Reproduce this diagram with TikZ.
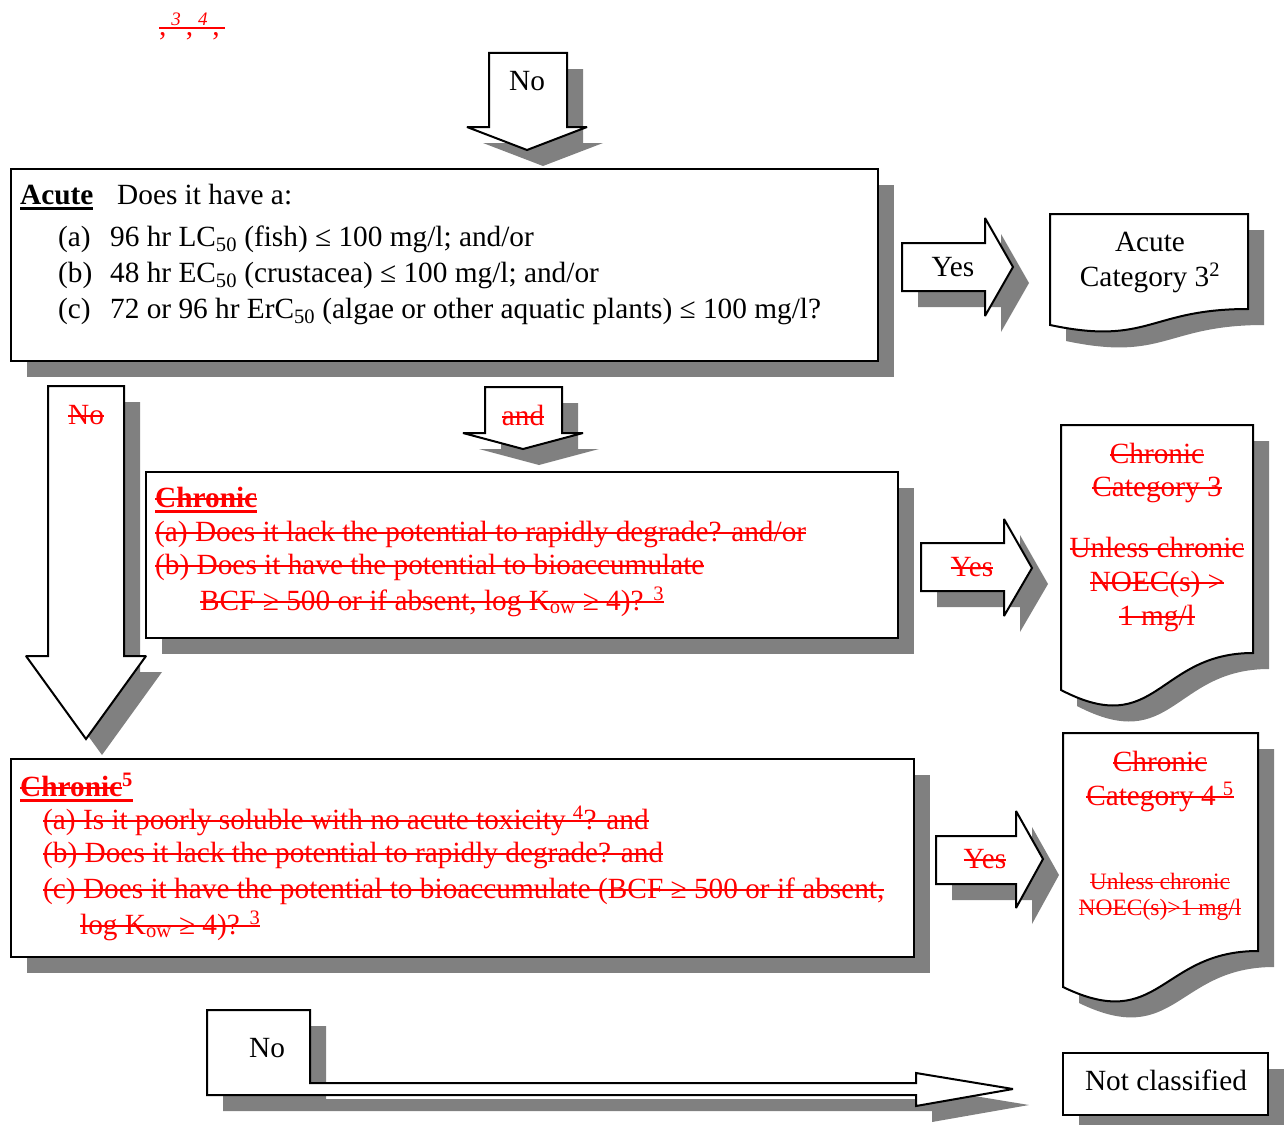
\documentclass[tikz,border=0pt]{standalone}
\usepackage{fontspec}
\setmainfont{Liberation Serif}
\usepackage{xcolor}
\definecolor{shade}{RGB}{128,128,128}

% struck and underlined text
\newcommand\strk[1]{\leavevmode\setbox0=\hbox{#1}\rlap{\raisebox{0.25em}{\rule{\wd0}{0.06em}}}\box0}
\newcommand\undl[1]{\leavevmode\setbox0=\hbox{#1}\rlap{\raisebox{-0.2em}{\rule{\wd0}{0.1em}}}\box0}
\newcommand\upmark[1]{\raisebox{0.35em}{\fontsize{19}{19}\selectfont\textit{#1}}}

\tikzset{
  blk/.style={draw=black, fill=white, line width=2pt, miter limit=2},
  shadowed/.style={preaction={fill=shade, transform canvas={xshift=16pt, yshift=-16pt}}},
  redtext/.style={text=red},
  small/.style={font=\fontsize{23.5}{26}\selectfont},
}

\begin{document}
\begin{tikzpicture}[x=1pt, y=-1pt, every node/.style={inner sep=0pt, font=\fontsize{29.3}{36}\selectfont}]
  \useasboundingbox (0,0) rectangle (1284,1124);

  \node[redtext, anchor=base west] (marks) at (159,36) {\strk{,\,\upmark{3}\,,\,\upmark{4}\,,\,}};

  % arrow into the acute question
  \draw[blk, shadowed] (489,53) -- (567,53) -- (567,127) -- (587,127) -- (527,150) -- (467,127) -- (489,127) -- cycle;
  \node[anchor=base] (no1) at (527,90) {No};

  % acute box
  \draw[blk, shadowed] (11,169) rectangle (878,361);
  \node[anchor=base west] (acutehd) at (20,204) {\undl{\textbf{Acute}}};
  \node[anchor=base west] (acuteq) at (117,204) {Does it have a:};
  \node[anchor=base west] (acutea) at (58,246) {(a)};
  \node[anchor=base west] (acuteat) at (110,246) {96 hr LC\textsubscript{50} (fish) ≤ 100 mg/l; and/or};
  \node[anchor=base west] (acuteb) at (58,282) {(b)};
  \node[anchor=base west] (acutebt) at (110,282) {48 hr EC\textsubscript{50} (crustacea) ≤ 100 mg/l; and/or};
  \node[anchor=base west] (acutec) at (58,318) {(c)};
  \node[anchor=base west] (acutect) at (110,318) {72 or 96 hr ErC\textsubscript{50} (algae or other aquatic plants) ≤ 100 mg/l?};

  \draw[blk, shadowed] (902,243) -- (985,243) -- (985,218) -- (1013,267) -- (985,316) -- (985,291) -- (902,291) -- cycle;
  \node[anchor=base] (yes1) at (953,276) {Yes};

  \draw[blk, shadowed] (1050,214) -- (1248,214) -- (1248,309) .. controls (1149,309) and (1149,346) .. (1050,325) -- cycle;
  \node[anchor=base] (cat3a) at (1150,251) {Acute};
  \node[anchor=base] (cat3b) at (1150,286) {Category 3\textsuperscript{2}};

  % no and and arrows
  \draw[blk, shadowed] (48,386) -- (124,386) -- (124,656) -- (146,656) -- (86,739) -- (26,656) -- (48,656) -- cycle;
  \node[redtext, anchor=base] (no2) at (86,424) {\strk{No}};
  \draw[blk, shadowed] (485,387) -- (562,387) -- (562,433) -- (583,433) -- (523,449) -- (463,433) -- (485,433) -- cycle;
  \node[redtext, anchor=base] (and) at (523,425) {\strk{and}};

  % chronic box
  \draw[blk, shadowed] (146,472) rectangle (898,638);
  \node[redtext, anchor=base west] (chrhd) at (155,507) {\undl{\strk{\textbf{Chronic}}}};
  \node[redtext, anchor=base west] (chra) at (155,541) {\strk{(a) Does it lack the potential to rapidly degrade? and/or}};
  \node[redtext, anchor=base west] (chrb) at (155,574) {\strk{(b) Does it have the potential to bioaccumulate}};
  \node[redtext, anchor=base west] (chrc) at (200,610) {\strk{BCF ≥ 500 or if absent, log K\textsubscript{ow} ≥ 4)? \textsuperscript{3}}};

  \draw[blk, shadowed] (921,543) -- (1004,543) -- (1004,519) -- (1032,568) -- (1004,616) -- (1004,591) -- (921,591) -- cycle;
  \node[redtext, anchor=base] (yes2) at (972,576) {\strk{Yes}};

  \draw[blk, shadowed] (1061,425) -- (1253,425) -- (1253,653) .. controls (1157,653) and (1157,740) .. (1061,690) -- cycle;
  \node[redtext, anchor=base] (ch3a) at (1157,463) {\strk{Chronic}};
  \node[redtext, anchor=base] (ch3b) at (1157,496) {\strk{Category 3}};
  \node[redtext, anchor=base] (ch3c) at (1157,557) {\strk{Unless chronic}};
  \node[redtext, anchor=base] (ch3d) at (1157,591) {\strk{NOEC(s) >}};
  \node[redtext, anchor=base] (ch3e) at (1157,625) {\strk{1 mg/l}};

  % poorly soluble box
  \draw[blk, shadowed] (11,759) rectangle (914,957);
  \node[redtext, anchor=base west] (pshd) at (20,796) {\undl{\strk{\textbf{Chronic}}\textsuperscript{\textbf{5}}}};
  \node[redtext, anchor=base west] (psa) at (43,829) {\strk{(a) Is it poorly soluble with no acute toxicity \textsuperscript{4}? and}};
  \node[redtext, anchor=base west] (psb) at (43,862) {\strk{(b) Does it lack the potential to rapidly degrade? and}};
  \node[redtext, anchor=base west] (psc) at (43,898) {\strk{(c) Does it have the potential to bioaccumulate (BCF ≥ 500 or if absent,}};
  \node[redtext, anchor=base west] (psd) at (80,934) {\strk{log K\textsubscript{ow} ≥ 4)? \textsuperscript{3}}};

  \draw[blk, shadowed] (936,836) -- (1016,836) -- (1016,811) -- (1043,859) -- (1016,908) -- (1016,884) -- (936,884) -- cycle;
  \node[redtext, anchor=base] (yes3) at (985,868) {\strk{Yes}};

  \draw[blk, shadowed] (1063,733) -- (1258,733) -- (1258,951) .. controls (1160,951) and (1160,1034) .. (1063,987) -- cycle;
  \node[redtext, anchor=base] (ch4a) at (1160,771) {\strk{Chronic}};
  \node[redtext, anchor=base] (ch4b) at (1160,805) {\strk{Category 4 \textsuperscript{5}}};
  \node[redtext, small, anchor=base] (ch4c) at (1160,889) {\strk{Unless chronic}};
  \node[redtext, small, anchor=base] (ch4d) at (1160,915) {\strk{NOEC(s)>1 mg/l}};

  % last no
  \draw[blk, shadowed] (207,1010) -- (310,1010) -- (310,1083) -- (916,1083) -- (916,1073) -- (1013,1089) -- (916,1106) -- (916,1095) -- (207,1095) -- cycle;
  \node[anchor=base] (no3) at (267,1057) {No};

  \draw[blk, shadowed] (1063,1053) rectangle (1268,1115);
  \node[anchor=base] (notcl) at (1166,1090) {Not classified};
\end{tikzpicture}
\end{document}
